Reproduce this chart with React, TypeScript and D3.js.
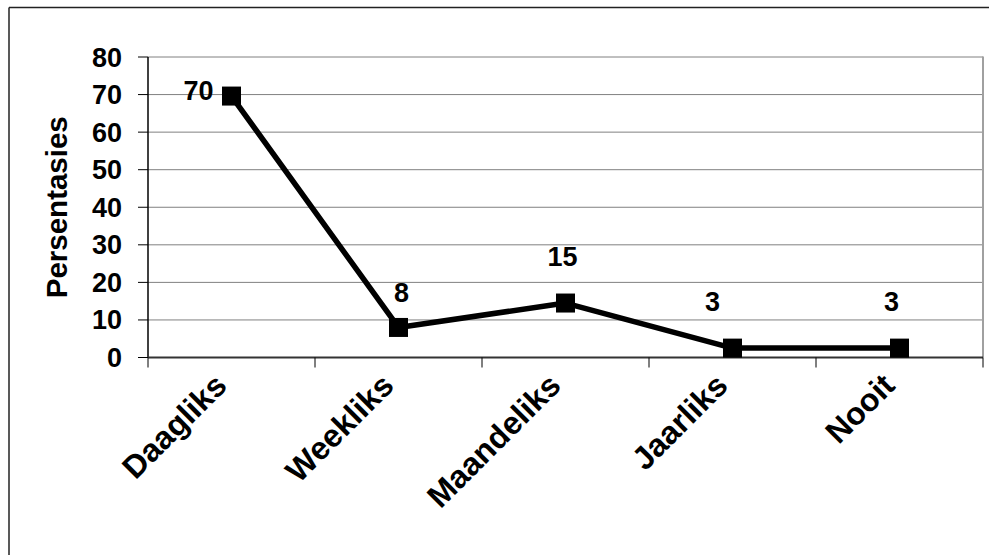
import React from "react";
import * as d3 from "d3";

const categories = ["Daagliks", "Weekliks", "Maandeliks", "Jaarliks", "Nooit"];
const values = [69.6, 8, 14.5, 2.5, 2.5];
const yTicks = [0, 10, 20, 30, 40, 50, 60, 70, 80];
const yTitle = "Persentasies";

const W = 994;
const H = 555;
const FONT = "'Liberation Sans', Arial, sans-serif";

export default function App() {
  const left = 148, right = 983, top = 57, bottom = 357.5;
  const x = d3.scaleBand<string>().domain(categories).range([left, right]).paddingInner(0).paddingOuter(0);
  const y = d3.scaleLinear().domain([0, 80]).range([bottom, top]);
  const cx = (c: string) => (x(c) as number) + x.bandwidth() / 2;
  const line = d3.line<number>().x((_, i) => cx(categories[i])).y((v) => y(v));
  const fmt = d3.format(".0f");
  // label placement tweaks (layout, not data)
  const labelPos = [
    { dx: -18, dy: 4, anchor: "end" },
    { dx: 3, dy: -25, anchor: "middle" },
    { dx: -3, dy: -37, anchor: "middle" },
    { dx: -20, dy: -37, anchor: "middle" },
    { dx: -8, dy: -37, anchor: "middle" },
  ];
  const boundaries = d3.range(categories.length + 1).map((i) => left + i * x.bandwidth());

  return (
    <svg width={W} height={H} style={{ position: "absolute", left: 0, top: 0, background: "#fff" }} fontFamily={FONT}>
      <rect x={0} y={0} width={W} height={H} fill="#fff" />
      {/* outer border (left and top) */}
      <line x1={9} y1={7.5} x2={989} y2={7.5} stroke="#222" strokeWidth={1.5} />
      <line x1={9} y1={7.5} x2={9} y2={H} stroke="#222" strokeWidth={1.5} />

      {/* gridlines */}
      {yTicks.filter((t) => t > 0).map((t) => (
        <line key={t} x1={left} x2={right} y1={y(t)} y2={y(t)} stroke="#808080" strokeWidth={1} />
      ))}
      {/* plot border right */}
      <line x1={right} x2={right} y1={top - 0.5} y2={bottom} stroke="#a0a0a0" strokeWidth={2} />

      {/* y axis */}
      <line x1={left} x2={left} y1={top} y2={bottom} stroke="#000" strokeWidth={1.5} />
      {yTicks.map((t) => (
        <g key={t}>
          <line x1={left - 10} x2={left} y1={y(t)} y2={y(t)} stroke="#000" strokeWidth={1} />
          <text x={122} y={y(t) + 9.5} textAnchor="end" fontSize={27} fontWeight="bold">{t}</text>
        </g>
      ))}
      <text transform={`translate(67,${(top + bottom) / 2}) rotate(-90)`} textAnchor="middle" fontSize={29.5} fontWeight="bold">{yTitle}</text>

      {/* x axis */}
      <line x1={left} x2={right} y1={bottom} y2={bottom} stroke="#333" strokeWidth={1.8} />
      {boundaries.map((b, i) => (
        <line key={i} x1={b} x2={b} y1={bottom} y2={bottom + 10} stroke="#000" strokeWidth={1} />
      ))}
      {categories.map((c) => (
        <text key={c} transform={`translate(${cx(c) - 3},${bottom + 30}) rotate(-45)`} textAnchor="end" fontSize={32} fontWeight="bold">{c}</text>
      ))}

      {/* series */}
      <path d={line(values) || ""} fill="none" stroke="#000" strokeWidth={5.5} strokeLinejoin="round" />
      {values.map((v, i) => (
        <rect key={i} x={cx(categories[i]) - 9.5} y={y(v) - 9.5} width={19} height={19} fill="#000" />
      ))}
      {values.map((v, i) => (
        <text key={i} x={cx(categories[i]) + labelPos[i].dx} y={y(v) + labelPos[i].dy} textAnchor={labelPos[i].anchor as any} fontSize={27} fontWeight="bold">{fmt(v)}</text>
      ))}
    </svg>
  );
}
